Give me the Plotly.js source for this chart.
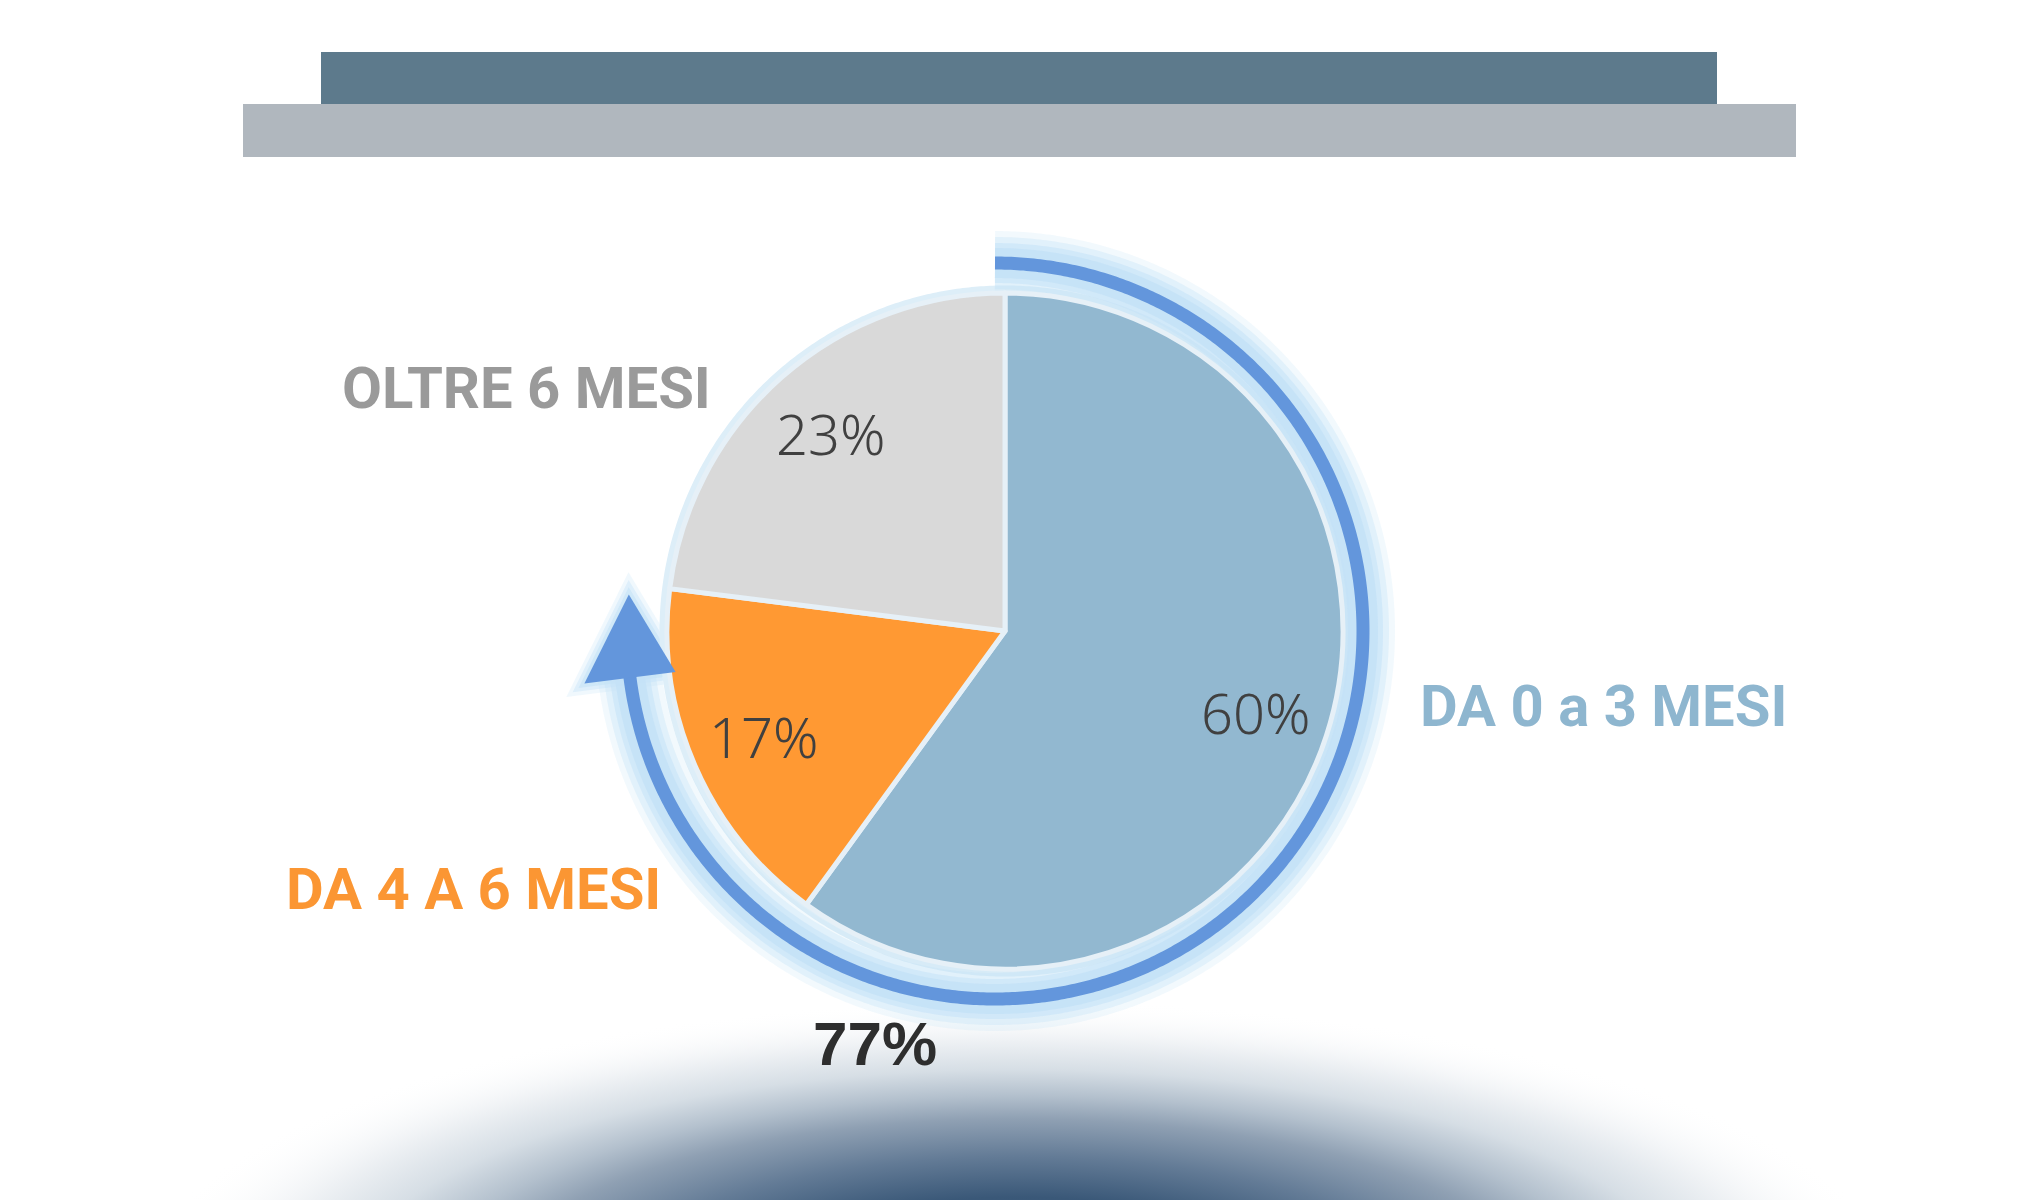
<!DOCTYPE html>
<html><head><meta charset="utf-8">
<script src="https://cdn.plot.ly/plotly-3.0.1.min.js"></script>
<style>html,body{margin:0;padding:0;background:#fff;} #chart{width:2040px;height:1200px;}</style>
</head><body><div id="chart"></div>
<script>
// ---- data ----
const categories = ['DA 0 a 3 MESI', 'DA 4 A 6 MESI', 'OLTRE 6 MESI'];
const shares = [60, 17, 23];
const arrowCategories = 2; // the arrow sums the first two categories

// ---- style ----
const sliceColors = ['#92B8D0', '#FF9933', '#D9D9D9'];
const labelColors = ['#8EB6CF', '#FB9633', '#9A9A9A'];
const arcColor = '#6396DC';
const glowRGB = '196,226,247';

const W = 2040, H = 1200;
const pieC = {x: 1005, y: 631, r: 338};
const arcC = {x: 995, y: 631, r: 368};
const pctRadius = 0.78;

const total = shares.reduce((a, b) => a + b, 0);
const arrowShare = shares.slice(0, arrowCategories).reduce((a, b) => a + b, 0);
const arcEndDeg = 360 * arrowShare / total;
const tipBackDeg = 1.5, headLenDeg = 13, headHalfW = 46;

function pt(c, r, deg) {
  const a = deg * Math.PI / 180;
  return [c.x + r * Math.sin(a), c.y - r * Math.cos(a)];
}
function arcXY(c, r, d0, d1) {
  const xs = [], ys = [];
  const n = Math.max(2, Math.ceil(Math.abs(d1 - d0) * 2));
  for (let i = 0; i <= n; i++) {
    const p = pt(c, r, d0 + (d1 - d0) * i / n);
    xs.push(p[0]); ys.push(p[1]);
  }
  return {x: xs, y: ys};
}
function lineTrace(xy, width, color) {
  return {type: 'scatter', mode: 'lines', x: xy.x, y: xy.y,
    line: {width: width, color: color, simplify: false},
    hoverinfo: 'skip', showlegend: false};
}

const traces = [];

// bottom dome with radial gradient
(function () {
  const cx = 1018, cy = 1290, rx = 880, ry = 290;
  const xs = [], ys = [];
  for (let i = 0; i <= 360; i++) {
    const a = i * 2 * Math.PI / 360;
    xs.push(cx + rx * Math.cos(a)); ys.push(cy + ry * Math.sin(a));
  }
  traces.push({
    type: 'scatter', mode: 'lines', x: xs, y: ys, fill: 'toself',
    line: {width: 0, color: 'rgba(0,0,0,0)', simplify: false},
    fillgradient: {type: 'radial', colorscale: [
      [0, '#2E4C70'], [0.32, '#3A5878'], [0.46, '#637B96'], [0.59, '#8FA0B3'],
      [0.67, '#B3C0CD'], [0.76, '#D6DEE5'], [0.86, '#EEF1F4'], [1, 'rgba(255,255,255,0)']]},
    hoverinfo: 'skip', showlegend: false
  });
})();

// pale rim around the pie
traces.push(lineTrace(arcXY(pieC, pieC.r + 3, 0, 360), 9, '#DDEEF8'));

// arrow arc (sum of first two shares)
const tipDeg = arcEndDeg - tipBackDeg;
const baseDeg = tipDeg - headLenDeg;
const shaftXY = arcXY(arcC, arcC.r, 0, baseDeg + 2);
const tip = pt(arcC, arcC.r, tipDeg);
const b1 = pt(arcC, arcC.r - headHalfW, baseDeg);
const b2 = pt(arcC, arcC.r + headHalfW, baseDeg);
const tri = [tip, b1, b2];
const cen = [(tip[0] + b1[0] + b2[0]) / 3, (tip[1] + b1[1] + b2[1]) / 3];
function triPath(s) {
  return tri.map((p, i) => (i ? 'L' : 'M') +
    (cen[0] + (p[0] - cen[0]) * s).toFixed(1) + ',' + (cen[1] + (p[1] - cen[1]) * s).toFixed(1)).join(' ') + ' Z';
}

const glowLayers = [[64, 0.22], [52, 0.35], [40, 0.55], [30, 0.85]];
glowLayers.forEach(([w, a]) => traces.push(lineTrace(shaftXY, w, 'rgba(' + glowRGB + ',' + a + ')')));
traces.push(lineTrace(shaftXY, 13, arcColor));

// pie
traces.push({
  type: 'pie', labels: categories, values: shares, sort: false,
  direction: 'clockwise', rotation: 0,
  marker: {colors: sliceColors, line: {color: '#E6F0F7', width: 5}},
  textinfo: 'none',
  domain: {x: [(pieC.x - pieC.r) / W, (pieC.x + pieC.r) / W],
           y: [(H - pieC.y - pieC.r) / H, (H - pieC.y + pieC.r) / H]},
  hoverinfo: 'label+percent', showlegend: false
});

// percentage labels placed on each slice's mid-angle
const pctAnnotations = [];
let cum = 0;
shares.forEach((v) => {
  const mid = 360 * (cum + v / 2) / total;
  cum += v;
  const p = pt(pieC, pieC.r * pctRadius, mid);
  pctAnnotations.push({text: v + '%', x: p[0], y: p[1], xref: 'x', yref: 'y',
    xanchor: 'center', yanchor: 'middle', showarrow: false,
    font: {family: 'Noto Sans, Open Sans, sans-serif', size: 56, color: '#404040', weight: 300}});
});

const labelFont = (c) => ({family: 'Roboto, Liberation Sans, sans-serif', size: 58, color: c, weight: 700});

const headShapes = [[1.4, 0.25], [1.26, 0.4], [1.13, 0.6]].map(([s, a]) => ({
  type: 'path', xref: 'x', yref: 'y', path: triPath(s),
  fillcolor: 'rgba(' + glowRGB + ',' + a + ')', line: {width: 0}, layer: 'between'
}));
headShapes.push({type: 'path', xref: 'x', yref: 'y', path: triPath(1),
  fillcolor: arcColor, line: {width: 0}, layer: 'above'});

const layout = {
  width: W, height: H, margin: {l: 0, r: 0, t: 0, b: 0},
  paper_bgcolor: '#FFFFFF', plot_bgcolor: '#FFFFFF', showlegend: false,
  xaxis: {range: [0, W], visible: false, fixedrange: true},
  yaxis: {range: [H, 0], visible: false, fixedrange: true},
  shapes: [
    {type: 'rect', xref: 'x', yref: 'y', x0: 321, x1: 1717, y0: 52, y1: 104,
     fillcolor: '#5D7A8C', line: {width: 0}, layer: 'below'},
    {type: 'rect', xref: 'x', yref: 'y', x0: 243, x1: 1796, y0: 104, y1: 157,
     fillcolor: '#B0B7BE', line: {width: 0}, layer: 'below'}
  ].concat(headShapes),
  annotations: pctAnnotations.concat([
    {text: categories[2], x: 713, y: 388, xref: 'x', yref: 'y', xanchor: 'right', yanchor: 'middle',
     showarrow: false, font: labelFont(labelColors[2])},
    {text: categories[0], x: 1418, y: 706, xref: 'x', yref: 'y', xanchor: 'left', yanchor: 'middle',
     showarrow: false, font: labelFont(labelColors[0])},
    {text: categories[1], x: 663, y: 889, xref: 'x', yref: 'y', xanchor: 'right', yanchor: 'middle',
     showarrow: false, font: labelFont(labelColors[1])},
    {text: arrowShare + '%', x: 875, y: 1043, xref: 'x', yref: 'y', xanchor: 'center', yanchor: 'middle',
     showarrow: false, font: {family: 'Liberation Sans, Arial, sans-serif', size: 62, color: '#2E2E2E', weight: 700}}
  ])
};

Plotly.newPlot('chart', traces, layout, {displayModeBar: false, staticPlot: true});
</script>
</body></html>
